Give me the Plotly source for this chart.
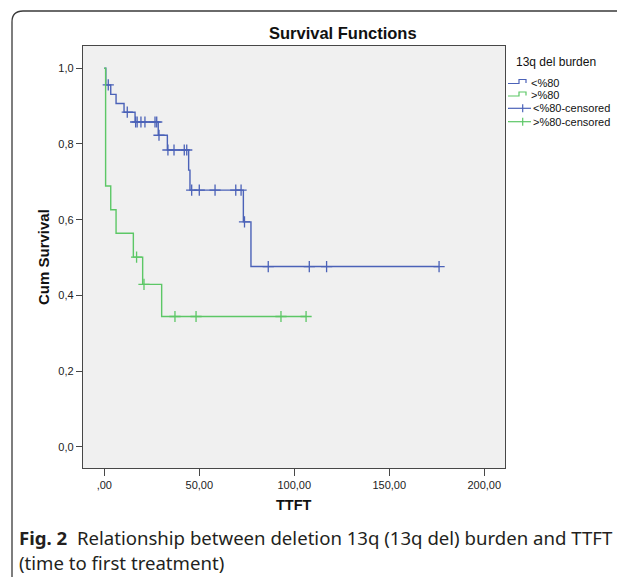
import plotly.graph_objects as go

# ---------------- data ----------------
blue_name = "<%80"
green_name = ">%80"

blue_times = [0.0, 0.8, 3.4, 6.2, 10.4, 16.2, 28.4, 33.2, 44.4, 45.1, 73.2, 77.2]
blue_surv = [1.0, 0.956, 0.931, 0.907, 0.884, 0.858, 0.823, 0.784, 0.731, 0.678, 0.594, 0.476]
blue_censored = [2.1, 12.1, 16.5, 17.3, 19.3, 21.4, 26.7, 27.6, 28.8, 33.5, 36.7, 42.1, 43.4,
                 46.0, 50.0, 58.3, 69.2, 72.0, 73.8, 86.3, 107.9, 117.0, 176.2]

green_times = [0.0, 0.7, 3.4, 6.2, 15.3, 20.2, 30.2]
green_surv = [1.0, 0.689, 0.626, 0.564, 0.501, 0.429, 0.344]
green_censored = [17.0, 20.9, 37.2, 48.3, 93.0, 106.2]

y_ticks = [0.0, 0.2, 0.4, 0.6, 0.8, 1.0]
y_ticklabels = ["0,0", "0,2", "0,4", "0,6", "0,8", "1,0"]
x_ticks = [0, 50, 100, 150, 200]
x_ticklabels = [",00", "50,00", "100,00", "150,00", "200,00"]

BLUE = "#4b62b8"
GREEN = "#5cc766"
AXIS = "#474747"

# page has an 8px body margin: work in page pixels, convert to figure pixels
OFF = 8
W, H = 625 - OFF, 577 - OFF
PL, PR, PT, PB = 83, 505, 46, 468          # plot area in page pixels
L, R, T, B = PL - OFF, W - (PR - OFF), PT - OFF, H - (PB - OFF)
PW, PH = W - L - R, H - T - B


def px(x):
    return (x - OFF - L) / PW


def py(y):
    return (H - B - (y - OFF)) / PH


def surv_at(times, surv, t):
    s = surv[0]
    for ti, si in zip(times, surv):
        if ti <= t:
            s = si
    return s


def step_line(times, surv, cens):
    end = max(cens) if cens else times[-1]
    return list(times) + [end], list(surv) + [surv[-1]]


fig = go.Figure()

for times, surv, cens, col, name in [
    (blue_times, blue_surv, blue_censored, BLUE, blue_name),
    (green_times, green_surv, green_censored, GREEN, green_name),
]:
    xs, ys = step_line(times, surv, cens)
    fig.add_trace(go.Scatter(x=xs, y=ys, mode="lines", line=dict(color=col, width=1.4, shape="hv"),
                             name=name, showlegend=False, hoverinfo="skip"))
    fig.add_trace(go.Scatter(x=cens, y=[surv_at(times, surv, t) for t in cens], mode="markers",
                             marker=dict(symbol="cross-thin", size=8, line=dict(color=col, width=1.3)),
                             name=name + "-censored", showlegend=False, hoverinfo="skip"))

font = "Liberation Sans, Arial, sans-serif"

fig.update_layout(
    width=W, height=H,
    margin=dict(l=L, r=R, t=T, b=B),
    paper_bgcolor="white",
    plot_bgcolor="#f0f0f0",
    font=dict(family=font, size=11, color="#222222"),
    showlegend=False,
    xaxis=dict(range=[-11.2, 210.9], tickvals=x_ticks, ticktext=x_ticklabels,
               showgrid=False, zeroline=False, showline=True, mirror=True,
               linecolor=AXIS, linewidth=1.3, ticks="outside", ticklen=7,
               tickwidth=1.3, tickcolor=AXIS, tickfont=dict(size=11, color="#222")),
    yaxis=dict(range=[-0.0563, 1.0589], tickvals=y_ticks, ticktext=y_ticklabels,
               showgrid=False, zeroline=False, showline=True, mirror=True,
               linecolor=AXIS, linewidth=1.3, ticks="outside", ticklen=6,
               tickwidth=1.3, tickcolor=AXIS, tickfont=dict(size=11, color="#222")),
)

ann = []
ann.append(dict(x=px(343), y=py(33), xref="paper", yref="paper", text="<b>Survival Functions</b>",
                showarrow=False, font=dict(size=16.5, color="#111", family=font), xanchor="center", yanchor="middle"))
ann.append(dict(x=px(43), y=py(257), xref="paper", yref="paper", text="<b>Cum Survival</b>",
                showarrow=False, textangle=-90, font=dict(size=15, color="#111", family=font),
                xanchor="center", yanchor="middle"))
ann.append(dict(x=px(294), y=py(505), xref="paper", yref="paper", text="<b>TTFT</b>",
                showarrow=False, font=dict(size=14.5, color="#111", family=font), xanchor="center", yanchor="middle"))

# custom SPSS-style legend
ann.append(dict(x=px(514), y=py(62), xref="paper", yref="paper", text="13q del burden",
                showarrow=False, font=dict(size=12, color="#111", family=font), xanchor="left", yanchor="middle"))
legend_items = [(blue_name, BLUE, "step", 82.5), (green_name, GREEN, "step", 95.0),
                (blue_name + "-censored", BLUE, "cross", 108.3), (green_name + "-censored", GREEN, "cross", 121.7)]
shapes = []
for label, col, kind, yc in legend_items:
    if kind == "step":
        tx = 529
        path = (f"M {px(508)},{py(yc + 1)} L {px(519)},{py(yc + 1)} L {px(519)},{py(yc - 3)} "
                f"L {px(526)},{py(yc - 3)} L {px(526)},{py(yc + 0.5)}")
        shapes.append(dict(type="path", xref="paper", yref="paper", path=path,
                           line=dict(color=col, width=1.2)))
    else:
        tx = 531
        shapes.append(dict(type="line", xref="paper", yref="paper", x0=px(508), x1=px(531),
                           y0=py(yc), y1=py(yc), line=dict(color=col, width=1.2)))
        shapes.append(dict(type="line", xref="paper", yref="paper", x0=px(522.7), x1=px(522.7),
                           y0=py(yc - 4), y1=py(yc + 4), line=dict(color=col, width=1.2)))
    ann.append(dict(x=px(tx), y=py(yc), xref="paper", yref="paper", text=label, showarrow=False,
                    font=dict(size=11, color="#111", family=font), xanchor="left", yanchor="middle"))

# figure caption
cap_font = "Noto Sans, Open Sans, sans-serif"
ann.append(dict(x=px(17), y=py(537), xref="paper", yref="paper",
                text="<b>Fig. 2</b>  Relationship between deletion 13q (13q del) burden and TTFT",
                showarrow=False, font=dict(size=18.6, color="#231f20", family=cap_font),
                xanchor="left", yanchor="middle"))
ann.append(dict(x=px(17), y=py(562), xref="paper", yref="paper",
                text="(time to first treatment)",
                showarrow=False, font=dict(size=18.6, color="#231f20", family=cap_font),
                xanchor="left", yanchor="middle"))

# figure frame (rounded top-left corner)
frame = (f"M {px(12)},{py(585)} L {px(12)},{py(22)} Q {px(12)},{py(11)} {px(23)},{py(11)} "
         f"L {px(640)},{py(11)}")
shapes.append(dict(type="path", xref="paper", yref="paper", path=frame,
                   line=dict(color="#3a3a3a", width=1.3)))

fig.update_layout(annotations=ann, shapes=shapes)
fig.write_html("out.html")
